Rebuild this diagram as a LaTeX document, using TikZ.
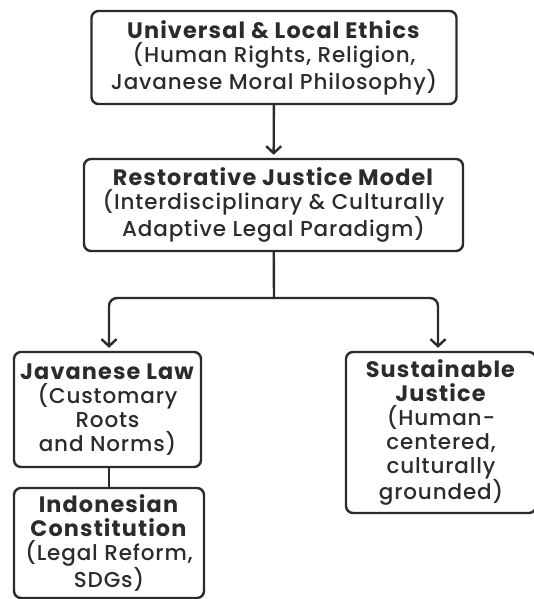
\documentclass[tikz,border=0pt]{standalone}
\usepackage{fontspec}
\setmainfont{Poppins}[UprightFont = * Medium, BoldFont = * Bold, LetterSpace = 4,
  BoldFeatures = {Scale = 1.04, LetterSpace = 5}]
\usetikzlibrary{arrows.meta}

\definecolor{ink}{HTML}{2B2B2B}

\begin{document}
\begin{tikzpicture}[x = 1pt, y = -1pt,
    box/.style = {draw = ink, line width = 2.4pt, rounded corners = 7pt, align = center,
                  text = ink, inner sep = 0pt, font = \fontsize{21.5}{24}\selectfont},
    link/.style = {draw = ink, line width = 2.4pt},
    >={Straight Barb[length = 7pt, width = 15pt, line width = 2.4pt]}]
  \useasboundingbox (0,0) rectangle (533,599);

  \node[box, minimum width = 365pt, minimum height = 93pt] (ethics) at (274,57.5)
    {\textbf{Universal \& Local Ethics}\\(Human Rights, Religion,\\Javanese Moral Philosophy)};
  \node[box, minimum width = 379pt, minimum height = 92pt] (model) at (273.5,205)
    {\textbf{Restorative Justice Model}\\(Interdisciplinary \& Culturally\\Adaptive Legal Paradigm)};
  \node[box, minimum width = 187pt, minimum height = 115pt] (javanese) at (107.5,409.5)
    {\textbf{Javanese Law}\\(Customary\\Roots\\and Norms)};
  \node[box, minimum width = 190pt, minimum height = 110pt] (constitution) at (109,543)
    {\textbf{Indonesian}\\\textbf{Constitution}\\(Legal Reform,\\SDGs)};
  \node[box, minimum width = 190pt, minimum height = 161pt] (sustain) at (441,432.5)
    {\textbf{Sustainable}\\\textbf{Justice}\\(Human-\\centered,\\culturally\\grounded)};
  \coordinate (split) at (274,298);

  \path[link, ->, shorten > = 3pt] (ethics) edge (model);
  \path[link] (model) edge (split);
  \draw[link, ->, rounded corners = 8pt, shorten > = 3pt] (split) -| ([xshift = 1.5pt]javanese.north);
  \draw[link, ->, rounded corners = 8pt, shorten > = 3pt] (split) -| ([xshift = -3pt]sustain.north);
  \draw[link] ([xshift = 1.5pt]javanese.south) -- ([xshift = 1.5pt]javanese.south |- constitution.north);
\end{tikzpicture}
\end{document}
